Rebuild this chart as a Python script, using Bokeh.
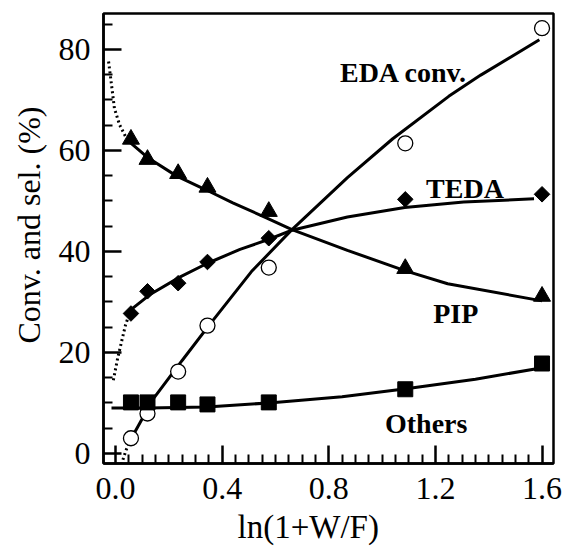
import numpy as np
from bokeh.plotting import figure
from bokeh.models import FixedTicker, Label, Range1d, Title
from bokeh.embed import file_html
from bokeh.resources import INLINE

# measured points
x_pts = [0.058, 0.12, 0.235, 0.345, 0.575, 1.087, 1.6]
eda = [3.0, 7.9, 16.2, 25.3, 36.8, 61.4, 84.2]
teda = [27.7, 32.1, 33.7, 37.9, 42.6, 50.3, 51.3]
pip = [62.2, 58.2, 55.4, 52.7, 47.9, 36.6, 31.1]
others = [10.1, 10.1, 10.1, 9.7, 10.1, 12.7, 17.8]

# fitted curves
eda_dot_x = [0.022, 0.038, 0.05, 0.062]
eda_dot_y = [-2.2, 0.4, 2.0, 3.2]
eda_fit_x = [0.068, 0.143, 0.25, 0.35, 0.51, 0.66, 0.87, 1.04, 1.25, 1.37, 1.59]
eda_fit_y = [3.8, 10.9, 18.4, 25.3, 36.0, 44.2, 54.6, 62.3, 70.7, 74.9, 81.9]

pip_dot_x = [-0.026, -0.015, -0.004, 0.015, 0.041, 0.05]
pip_dot_y = [77.6, 73.0, 68.3, 65.1, 62.4, 61.8]
pip_fit_x = [0.05, 0.12, 0.23, 0.343, 0.44, 0.568, 0.662, 0.87, 1.085, 1.246, 1.6]
pip_fit_y = [61.8, 58.6, 54.9, 52.1, 49.6, 46.6, 44.3, 40.2, 36.2, 33.6, 30.2]

teda_dot_x = [-0.008, 0.008, 0.023, 0.038, 0.05]
teda_dot_y = [14.5, 18.8, 22.2, 25.5, 27.3]
teda_fit_x = [0.05, 0.064, 0.128, 0.241, 0.343, 0.467, 0.576, 0.662, 0.87, 1.085, 1.306, 1.57]
teda_fit_y = [27.3, 28.7, 31.4, 34.9, 37.6, 40.4, 42.4, 44.2, 46.8, 48.7, 49.8, 50.4]

others_fit_x = [-0.015, 0.12, 0.343, 0.576, 0.85, 1.09, 1.35, 1.585]
others_fit_y = [9.0, 9.0, 9.2, 10.0, 11.2, 12.8, 14.7, 16.8]

x_ticks = [0.0, 0.4, 0.8, 1.2, 1.6]
y_ticks = [0, 20, 40, 60, 80]

FONT = "Liberation Serif"

p = figure(width=565, height=549, output_backend="svg", toolbar_location=None,
           x_range=Range1d(-0.045, 1.643), y_range=Range1d(-2.0, 87.1),
           min_border_left=103, min_border_right=12, min_border_top=13,
           min_border_bottom=86)
p.background_fill_color = "white"
p.border_fill_color = "white"
p.grid.visible = False
p.outline_line_color = "black"
p.outline_line_width = 2.5

xminor = [round(0.05 * i, 2) for i in range(0, 33) if i % 8 != 0]
yminor = [5 * i for i in range(0, 18) if i % 4 != 0]
p.xaxis.ticker = FixedTicker(ticks=x_ticks, minor_ticks=xminor)
p.yaxis.ticker = FixedTicker(ticks=y_ticks, minor_ticks=yminor)
p.xaxis.major_label_overrides = {0.0: "0.0", 0.4: "0.4", 0.8: "0.8", 1.2: "1.2", 1.6: "1.6"}

for ax in (p.xaxis[0], p.yaxis[0]):
    ax.axis_line_width = 2.5
    ax.major_tick_line_width = 2.5
    ax.minor_tick_line_width = 2.0
    ax.major_tick_in = 18
    ax.major_tick_out = 0
    ax.minor_tick_in = 9
    ax.minor_tick_out = 0
    ax.major_label_text_font = FONT
    ax.major_label_text_font_size = "32px"
    ax.major_label_text_color = "black"
p.xaxis.major_label_standoff = 14
p.yaxis.major_label_standoff = 13

# axis titles placed as side titles for exact offsets
p.add_layout(Title(text="ln(1+W/F)", text_font=FONT, text_font_size="33px",
                   text_font_style="normal", align="left", offset=134,
                   standoff=10, text_color="black"), "below")
p.add_layout(Title(text="Conv. and sel. (%)", text_font=FONT, text_font_size="32px",
                   text_font_style="normal", align="left", offset=120,
                   standoff=17, text_color="black"), "left")

LW = 3
p.line(eda_dot_x, eda_dot_y, line_width=LW, line_color="black", line_dash="2 3")
p.line(pip_dot_x, pip_dot_y, line_width=LW, line_color="black", line_dash="2 3")
p.line(teda_dot_x, teda_dot_y, line_width=LW, line_color="black", line_dash="2 3")
p.line(eda_fit_x, eda_fit_y, line_width=LW, line_color="black")
p.line(pip_fit_x, pip_fit_y, line_width=LW, line_color="black")
p.line(teda_fit_x, teda_fit_y, line_width=LW, line_color="black")
p.line(others_fit_x, others_fit_y, line_width=LW, line_color="black")

p.scatter(x_pts, eda, marker="circle", size=15, fill_color="white",
          line_color="black", line_width=1.3)
p.scatter(x_pts, teda, marker="square", angle=np.pi / 4, size=11,
          fill_color="black", line_color="black")
p.scatter(x_pts, pip, marker="triangle", size=17, fill_color="black",
          line_color="black")
p.scatter(x_pts, others, marker="square", size=15, fill_color="black",
          line_color="black")

labels = [("EDA conv.", 0.842, 75.4), ("TEDA", 1.165, 52.5),
          ("PIP", 1.192, 27.7), ("Others", 1.011, 5.9)]
for t, lx, ly in labels:
    p.add_layout(Label(x=lx, y=ly, text=t, text_font=FONT, text_font_size="28px",
                       text_font_style="bold", text_align="left",
                       text_baseline="alphabetic", text_color="black"))

open("out.html", "w").write(file_html(p, INLINE))
